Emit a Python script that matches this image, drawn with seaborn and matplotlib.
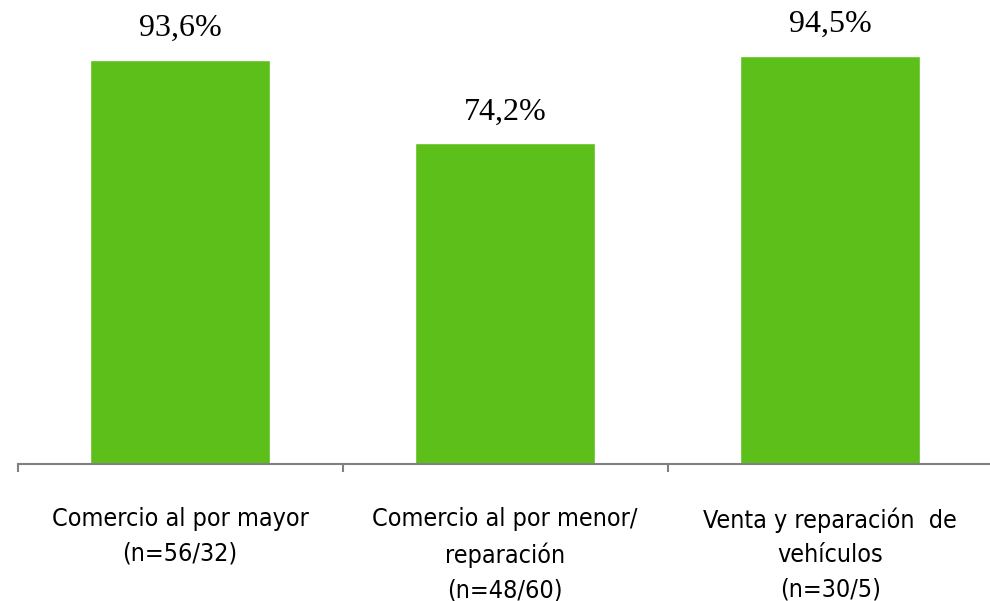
import matplotlib
matplotlib.use('Agg')
from matplotlib import pyplot as plt
from matplotlib.ticker import FixedLocator
import pandas as pd
import seaborn as sns

categories = ['Comercio al por mayor\n(n=56/32)',
              'Comercio al por menor/\nreparación\n(n=48/60)',
              'Venta y reparación  de\nvehículos\n(n=30/5)']
values = [93.6, 74.2, 94.5]
value_labels = ['93,6%', '74,2%', '94,5%']

df = pd.DataFrame({'Sector': categories, 'Valor': values})

sns.set_style('white')
plt.rcParams['font.family'] = ['DejaVu Sans']
plt.rcParams['text.color'] = 'black'
plt.rcParams['xtick.labelcolor'] = 'black'

fig = plt.figure(figsize=(9.9, 6.01), dpi=100)
ax = fig.add_axes([0.0177, 0.228, 0.985, 0.719])

sns.barplot(data=df, x='Sector', y='Valor', color='#5DBF1A', width=0.554,
            saturation=1, ax=ax)

ax.set_xlim(-0.5, 2.5)
ax.set_ylim(0, 100)
ax.set_xlabel('')
ax.set_ylabel('')
ax.set_yticks([])

# Value labels above the bars
ax.bar_label(ax.containers[0], labels=value_labels, padding=12,
             fontsize=23, family='Liberation Serif', color='black')

# Category labels, tick marks between categories
ax.tick_params(axis='x', which='major', bottom=False, length=0, pad=31)
ax.xaxis.set_minor_locator(FixedLocator([-0.5, 0.5, 1.5, 2.5]))
ax.tick_params(axis='x', which='minor', bottom=True, length=6, width=1.5,
               color='#808080', direction='out')
for lbl in ax.get_xticklabels():
    lbl.set_fontsize(18)
    lbl.set_fontstretch('condensed')
    lbl.set_linespacing(1.55)
    lbl.set_color('black')

for side in ['top', 'left', 'right']:
    ax.spines[side].set_visible(False)
ax.spines['bottom'].set_color('#808080')
ax.spines['bottom'].set_linewidth(1.5)

plt.savefig('out.png', dpi=100)
